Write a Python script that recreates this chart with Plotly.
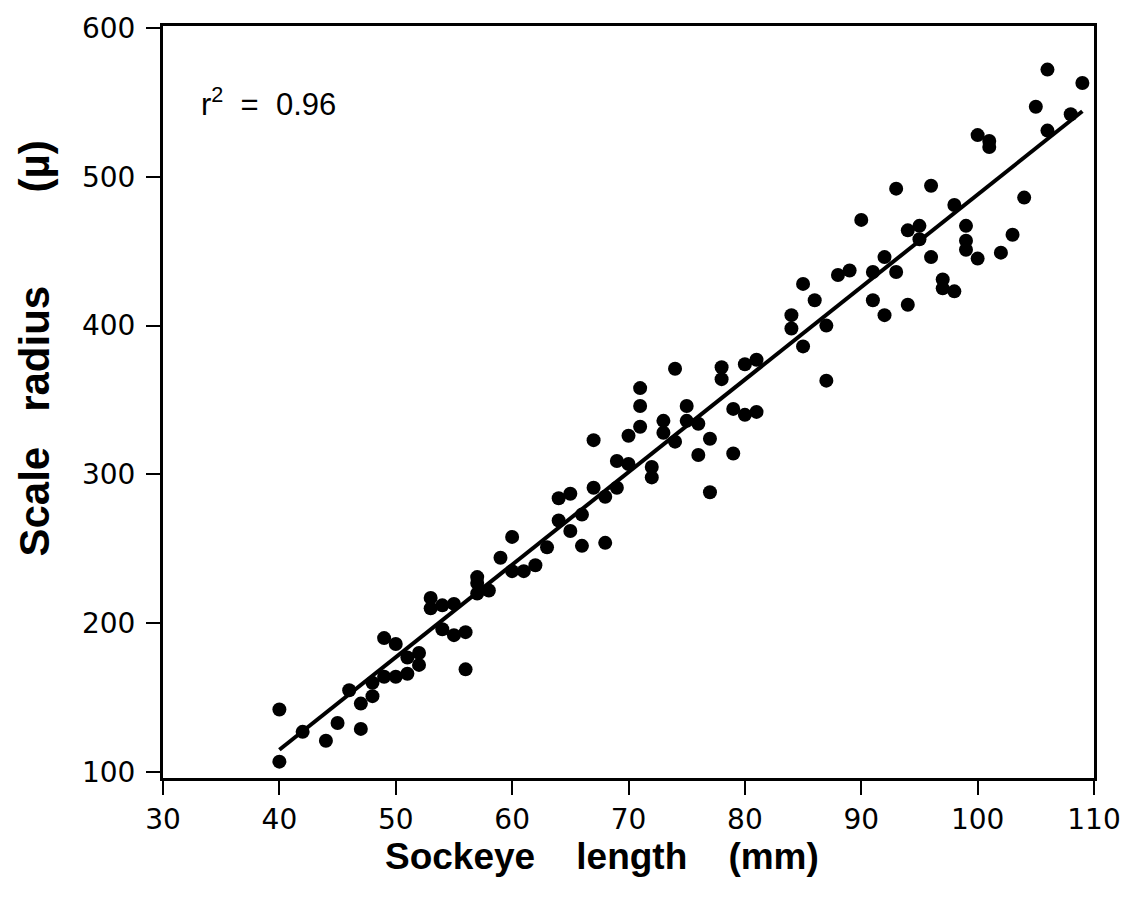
import plotly.graph_objects as go

# Sockeye length (mm)
length_mm = [40, 40, 42, 44, 45, 46, 47, 47, 48, 48, 49, 49, 50, 50, 51, 51, 52, 52,
             53, 53, 54, 54, 55, 55, 56, 56, 57, 57, 57, 58, 59, 60, 60, 61, 62, 63,
             64, 64, 65, 65, 66, 66, 67, 67, 68, 68, 69, 69, 70, 70, 71, 71, 71, 72, 72,
             73, 73, 74, 74, 75, 75, 76, 76, 77, 77, 78, 78, 79, 79, 80, 80, 81, 81,
             84, 84, 85, 85, 86, 87, 87, 88, 89, 90, 91, 91, 92, 92, 93, 93, 94, 94,
             95, 95, 96, 96, 97, 97, 98, 98, 99, 99, 99, 100, 100, 101, 101, 102, 103,
             104, 105, 106, 106, 108, 109]
# Scale radius (µ)
scale_radius = [142, 107, 127, 121, 133, 155, 129, 146, 151, 160, 164, 190, 164, 186, 166, 177, 172, 180,
                217, 210, 212, 196, 213, 192, 194, 169, 231, 227, 220, 222, 244, 258, 235, 235, 239, 251,
                284, 269, 287, 262, 273, 252, 291, 323, 254, 285, 309, 291, 307, 326, 332, 358, 346, 305, 298,
                336, 328, 322, 371, 336, 346, 334, 313, 324, 288, 372, 364, 314, 344, 340, 374, 342, 377,
                407, 398, 428, 386, 417, 400, 363, 434, 437, 471, 436, 417, 446, 407, 492, 436, 464, 414,
                467, 458, 494, 446, 431, 425, 423, 481, 467, 457, 451, 445, 528, 524, 520, 449, 461,
                486, 547, 572, 531, 542, 563]

# Fitted regression line endpoints (as drawn)
fit_x = [40, 109]
fit_y = [115, 544]

x_ticks = [30, 40, 50, 60, 70, 80, 90, 100, 110]
y_ticks = [100, 200, 300, 400, 500, 600]

fig = go.Figure()
fig.add_trace(go.Scatter(x=fit_x, y=fit_y, mode="lines",
                         line=dict(color="black", width=4), showlegend=False))
fig.add_trace(go.Scatter(x=length_mm, y=scale_radius, mode="markers",
                         marker=dict(color="black", size=14, line=dict(width=0)),
                         showlegend=False))

fig.add_annotation(x=33.1, y=550, xref="x", yref="y", text="r<sup>2</sup>\u00a0 =\u00a0 0.96",
                   showarrow=False, xanchor="left", yanchor="middle",
                   font=dict(family="Liberation Sans, Arial, sans-serif", size=31, color="black"))

tickfont = dict(family="DejaVu Sans, sans-serif", size=28, color="black")
xgap = "\u00a0\u00a0\u00a0 "
ygap1 = "\u00a0\u00a0 "
ygap2 = "\u00a0\u00a0\u00a0\u00a0\u00a0\u00a0\u00a0 "

# Axis titles
fig.add_annotation(x=0.4715, y=-0.1046, xref="paper", yref="paper",
                   text="Sockeye" + xgap + "length" + xgap + "(mm)", showarrow=False,
                   xanchor="center", yanchor="middle",
                   font=dict(family="Liberation Sans, Arial, sans-serif", size=37, color="black", weight="bold"))
fig.add_annotation(x=-0.1375, y=0.571, xref="paper", yref="paper",
                   text="Scale" + ygap1 + "radius" + ygap2 + "(\u00b5)", showarrow=False, textangle=-90,
                   xanchor="center", yanchor="middle",
                   font=dict(family="Liberation Sans, Arial, sans-serif", size=42, color="black", weight="bold"))

fig.update_layout(
    width=1133, height=913,
    margin=dict(l=163, r=39, t=23, b=135),
    paper_bgcolor="white", plot_bgcolor="white",
    xaxis=dict(range=[30, 110], tickvals=x_ticks, ticks="outside", ticklen=14, tickwidth=2,
               tickcolor="black", showline=True, linecolor="black", linewidth=3, mirror=True,
               showgrid=False, zeroline=False, tickfont=tickfont, ticklabelstandoff=0),
    yaxis=dict(range=[96, 601.3], tickvals=y_ticks, ticks="outside", ticklen=14, tickwidth=2,
               tickcolor="black", showline=True, linecolor="black", linewidth=3, mirror=True,
               showgrid=False, zeroline=False, tickfont=tickfont, ticklabelstandoff=5),
)

fig.write_html("out.html")
